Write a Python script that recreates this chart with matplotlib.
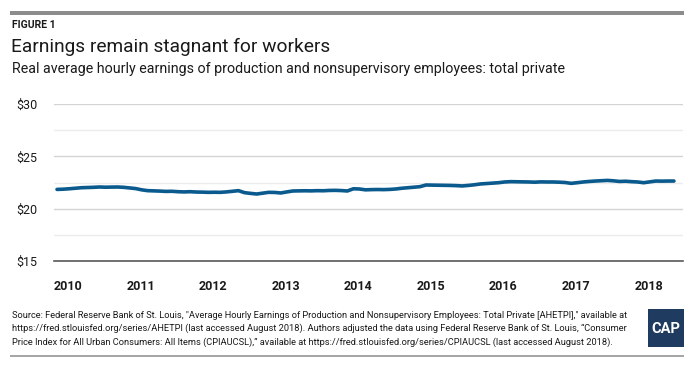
import numpy as np
import matplotlib.pyplot as plt
from matplotlib.patches import Rectangle

# Реальные средние почасовые заработки, помесячно, янв. 2010 - июль 2018
earn_2010 = [21.84, 21.86, 21.90, 21.95, 22.00, 22.02, 22.04, 22.07, 22.05, 22.06, 22.07, 22.04]
earn_2011 = [21.98, 21.92, 21.80, 21.72, 21.70, 21.68, 21.65, 21.66, 21.62, 21.60, 21.62, 21.59]
earn_2012 = [21.58, 21.56, 21.57, 21.56, 21.60, 21.66, 21.72, 21.53, 21.46, 21.40, 21.48, 21.56]
earn_2013 = [21.55, 21.50, 21.60, 21.69, 21.70, 21.71, 21.70, 21.72, 21.71, 21.74, 21.75, 21.73]
earn_2014 = [21.69, 21.90, 21.88, 21.80, 21.82, 21.83, 21.82, 21.84, 21.88, 21.95, 22.00, 22.05]
earn_2015 = [22.10, 22.26, 22.25, 22.24, 22.23, 22.22, 22.20, 22.17, 22.22, 22.28, 22.36, 22.40]
earn_2016 = [22.44, 22.48, 22.55, 22.58, 22.57, 22.56, 22.55, 22.53, 22.56, 22.55, 22.55, 22.53]
earn_2017 = [22.50, 22.42, 22.48, 22.55, 22.60, 22.64, 22.67, 22.70, 22.66, 22.60, 22.62, 22.58]
earn_2018 = [22.55, 22.48, 22.56, 22.64, 22.63, 22.64, 22.64]

earnings = (earn_2010 + earn_2011 + earn_2012 + earn_2013 + earn_2014
            + earn_2015 + earn_2016 + earn_2017 + earn_2018)
years = ['2010', '2011', '2012', '2013', '2014', '2015', '2016', '2017', '2018']
y_ticks = [15, 20, 25, 30]
y_labels = ['$15', '$20', '$25', '$30']

plt.rcParams['font.family'] = ['Roboto', 'DejaVu Sans']

W, H = 694, 368
fig = plt.figure(figsize=(W / 100, H / 100), dpi=100)

def fx(px):
    return px / W

def fy(py):
    return 1 - py / H

# Верхняя и нижняя серые полосы
fig.patches.append(Rectangle((fx(10), fy(15)), fx(674), 4 / H, transform=fig.transFigure,
                             color='#8c8c8c', lw=0))
fig.patches.append(Rectangle((fx(10), fy(357)), fx(674), 2 / H, transform=fig.transFigure,
                             color='#a6a6a6', lw=0))

fig.text(fx(12), fy(25), 'FIGURE 1', fontsize=7.5, fontweight='bold', va='center', color='#1a1a1a')
fig.text(fx(11), fy(47), 'Earnings remain stagnant for workers', fontsize=13.8, va='center',
         color='#1a1a1a')
fig.text(fx(12), fy(69), 'Real average hourly earnings of production and nonsupervisory employees: total private',
         fontsize=10.3, va='center', color='#1a1a1a')

ax = fig.add_axes([fx(54), fy(261), fx(683 - 54), (261 - 104) / H])
x = np.arange(len(earnings))
ax.plot(x, earnings, color='#0b5a8e', lw=2.6, solid_capstyle='round')

ax.set_ylim(15, 30)
ax.set_xlim(-0.5, 103.5)
ax.set_yticks(y_ticks)
ax.set_yticklabels(y_labels)
ax.set_yticks([17.5, 22.5, 27.5], minor=True)
ax.set_xticks(np.arange(len(years)) * 12 + 1.8)
ax.set_xticklabels(years, fontweight='bold')
ax.grid(axis='y', which='major', color='#d4d4d4', lw=1)
ax.grid(axis='y', which='minor', color='#ececec', lw=1)
ax.set_axisbelow(True)
for s in ['top', 'right', 'left']:
    ax.spines[s].set_visible(False)
ax.spines['bottom'].set_color('#595959')
ax.spines['bottom'].set_linewidth(1.2)
ax.tick_params(axis='both', which='both', length=0, labelsize=9, colors='#1a1a1a')
ax.tick_params(axis='y', pad=12)
ax.tick_params(axis='x', pad=14)

source = ('Source: Federal Reserve Bank of St. Louis, "Average Hourly Earnings of Production and Nonsupervisory Employees: Total Private [AHETPI]," available at\n'
          'https://fred.stlouisfed.org/series/AHETPI (last accessed August 2018). Authors adjusted the data using Federal Reserve Bank of St. Louis, \u201cConsumer\n'
          'Price Index for All Urban Consumers: All Items (CPIAUCSL),\u201d available at https://fred.stlouisfed.org/series/CPIAUCSL (last accessed August 2018).')
fig.text(fx(12), fy(311), source, fontsize=6.7, va='top', linespacing=1.5, color='#1a1a1a')

# Логотип CAP
fig.patches.append(Rectangle((fx(648), fy(347)), fx(36), 38 / H, transform=fig.transFigure,
                             color='#1f3c60', lw=0))
fig.text(fx(666), fy(329), 'CAP', fontsize=10.5, fontweight='bold', color='white',
         ha='center', va='center')

fig.savefig('out.png', dpi=100)
